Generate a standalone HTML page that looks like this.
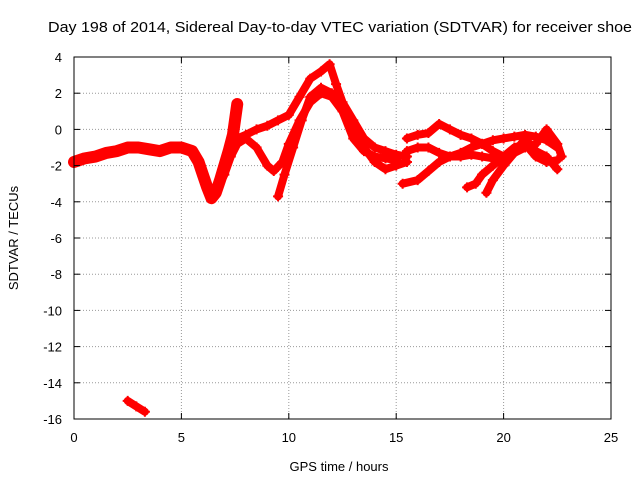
<!DOCTYPE html>
<html><head><meta charset="utf-8"><style>
body{margin:0;background:#fff}
svg text{font-family:"Liberation Sans",sans-serif;font-size:13px;fill:#000}
</style></head><body>
<svg id="chart" width="640" height="480">
<text x="48" y="32" style="font-size:15px" textLength="584" lengthAdjust="spacingAndGlyphs">Day 198 of 2014, Sidereal Day-to-day VTEC variation (SDTVAR) for receiver shoe</text>
<text x="339" y="471" text-anchor="middle">GPS time / hours</text>
<text transform="translate(18,238) rotate(-90)" text-anchor="middle">SDTVAR / TECUs</text>
<g id="grid"></g><g id="marks"></g><g id="ticks"></g>
<rect x="74" y="57" width="537" height="362" fill="none" stroke="#000"/>
</svg>
<script>
const xTicks=[0,5,10,15,20,25];
const yTicks=[4,2,0,-2,-4,-6,-8,-10,-12,-14,-16];
const trackA=[[0,-1.8],[0.5,-1.6],[1,-1.5],[1.5,-1.3],[2,-1.2],[2.5,-1.0],[3,-1.0],[3.5,-1.1],[4,-1.2],[4.5,-1.0],[5,-1.0],[5.5,-1.2],[5.8,-1.8],[6,-2.5],[6.2,-3.2],[6.4,-3.8],[6.6,-3.5],[6.8,-2.8],[7,-2.0],[7.2,-1.2],[7.4,-0.3],[7.6,1.4]];
const trackB=[[6.6,-3.5],[7,-2.5],[7.3,-1.5],[7.6,-0.8],[8,-0.5],[8.5,-1.0],[9,-2.0],[9.3,-2.3],[9.7,-1.8],[10,-0.8],[10.5,0.5],[11,1.5],[11.5,2.0],[12,1.8],[12.5,1.0],[13,-0.5],[13.5,-1.2],[14,-1.5],[14.5,-1.6],[15,-1.7]];
const trackC=[[7.6,-0.5],[8,-0.3],[8.5,0.0],[9,0.2],[9.5,0.5],[10,0.8],[10.5,1.8],[11,2.8],[11.5,3.2],[11.9,3.6],[12.2,2.5],[12.5,1.5],[13,0.5],[13.5,-0.5],[14,-1.0],[14.5,-1.2],[15,-1.4],[15.5,-1.5]];
const trackD=[[9.5,-3.7],[9.8,-2.5],[10.2,-1.0],[10.6,0.5],[11,1.8],[11.5,2.3],[12,2.0],[12.5,1.2],[13,0.0],[13.5,-1.0],[14,-1.8],[14.5,-2.2],[15,-2.0],[15.5,-1.8]];
const trackE=[[15.3,-3.0],[16,-2.8],[16.5,-2.3],[17,-1.8],[17.5,-1.5],[18,-1.3],[18.5,-1.0],[19,-0.8],[19.5,-0.6],[20,-0.5],[20.5,-0.4],[21,-0.3],[21.5,-0.4],[22,-0.6],[22.5,-1.0]];
const trackF=[[15.5,-0.5],[16,-0.3],[16.5,-0.2],[17,0.3],[17.5,0.0],[18,-0.3],[18.5,-0.5],[19,-0.8],[19.5,-1.2],[20,-1.5],[20.5,-1.3],[21,-1.0],[21.5,-0.8],[22,0.0],[22.5,-0.8],[22.7,-1.5]];
const trackG=[[15.5,-1.2],[16,-1.0],[16.5,-1.0],[17,-1.3],[17.5,-1.5],[18,-1.5],[18.5,-1.4],[19,-1.5],[19.5,-1.6]];
const trackH=[[18.3,-3.2],[18.7,-3.0],[19,-2.5],[19.5,-2.0],[20,-1.5],[20.5,-1.0],[21,-0.8],[21.5,-1.5],[22,-1.8],[22.5,-1.7]];
const trackI=[[19.2,-3.5],[19.5,-2.8],[20,-2.0],[20.5,-1.3],[21,-0.5],[21.5,-1.2],[22,-1.5],[22.5,-2.2]];
const trackOut=[[2.5,-15.0],[2.9,-15.3],[3.3,-15.6]];
const tracks=[trackA,trackB,trackC,trackD,trackE,trackF,trackG,trackH,trackI,trackOut];
const X=v=>74+v*(537/25), Y=v=>57+(4-v)*(362/20);
const NS="http://www.w3.org/2000/svg";
const grid=document.getElementById('grid'),marks=document.getElementById('marks'),tk=document.getElementById('ticks');
function mk(t,a,p){const e=document.createElementNS(NS,t);for(const k in a)e.setAttribute(k,a[k]);p.appendChild(e);return e;}
xTicks.forEach(v=>{const x=X(v);
 if(v>0&&v<25){const l=mk('line',{x1:x,x2:x,y1:57,y2:419,stroke:'#999','stroke-dasharray':'1,2'},grid);
 
 }
 const t=mk('text',{x:x,y:442,'text-anchor':'middle'},tk);t.textContent=v;
 
 
 mk('line',{x1:x,x2:x,y1:419,y2:413,stroke:'#000'},tk);mk('line',{x1:x,x2:x,y1:57,y2:63,stroke:'#000'},tk);});
yTicks.forEach(v=>{const y=Y(v);
 if(v<4&&v>-16){const l=mk('line',{x1:74,x2:611,y1:y,y2:y,stroke:'#999','stroke-dasharray':'1,2'},grid);
 
 }
 const t=mk('text',{x:62,y:y+5,'text-anchor':'end'},tk);t.textContent=v;
 
 
 mk('line',{x1:74,x2:80,y1:y,y2:y,stroke:'#000'},tk);mk('line',{x1:611,x2:605,y1:y,y2:y,stroke:'#000'},tk);});
tracks.forEach((tr,i)=>{
 const w=(i===0)?12:8;
 const pl=mk('polyline',{points:tr.map(p=>X(p[0])+','+Y(p[1])).join(' '),fill:'none',stroke:'#f00','stroke-width':w,'stroke-linejoin':'round','stroke-linecap':'round'},marks);
 
 
 tr.forEach(p=>{const x=X(p[0]),y=Y(p[1]);
  const m=mk('path',{d:`M${x-5},${y}H${x+5}M${x},${y-5}V${y+5}`,stroke:'#f00','stroke-width':2},marks);
  
  });
});
</script>
</body></html>
